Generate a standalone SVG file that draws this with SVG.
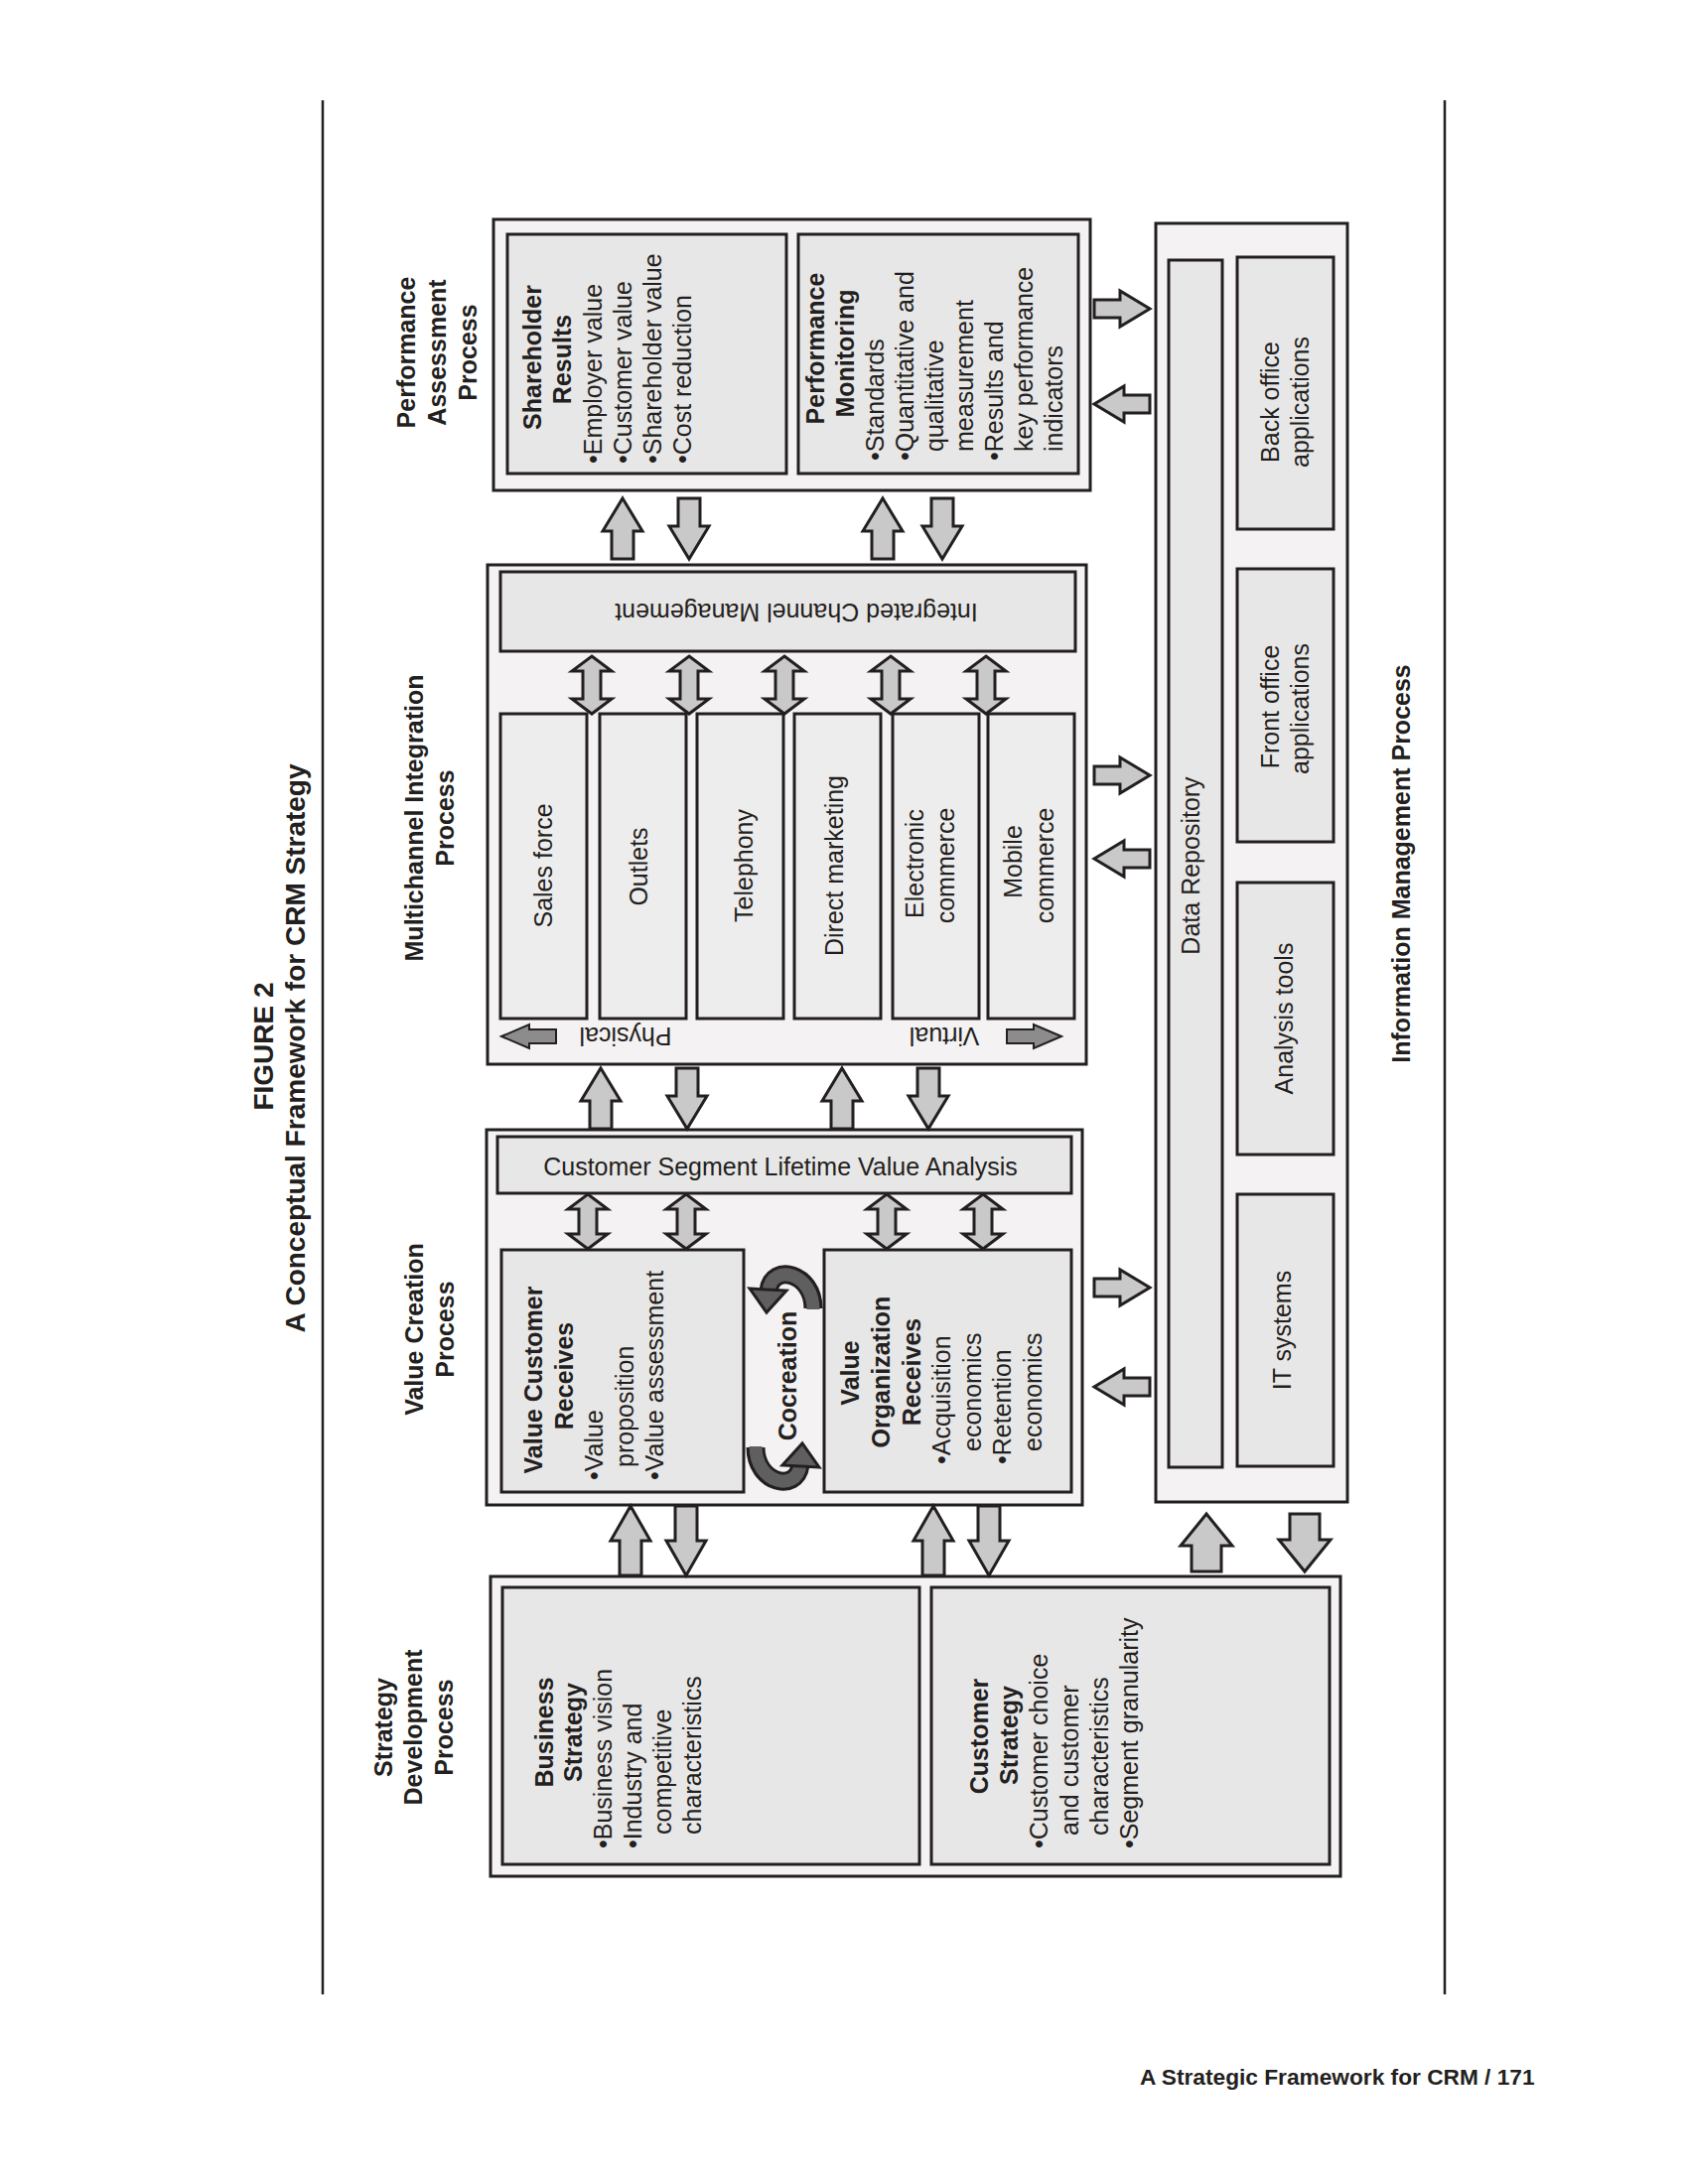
<svg xmlns="http://www.w3.org/2000/svg" width="1700" height="2200" viewBox="0 0 1700 2200">
<style>
text{font-family:"Liberation Sans",Arial,Helvetica,sans-serif;fill:#231f20;font-size:25px}
.b{font-weight:bold}
.m{text-anchor:middle}
.t{font-size:28px;font-weight:bold;text-anchor:middle}
.outer{fill:#f4f2f2;stroke:#231f20;stroke-width:3}
.inner{fill:#e8e7e7;stroke:#231f20;stroke-width:3}
.ch{fill:#eeeded;stroke:#231f20;stroke-width:3}
.arr{fill:#c9c9c9;stroke:#231f20;stroke-width:3;stroke-linejoin:miter}
.darr{fill:#8c8c8c;stroke:#231f20;stroke-width:2}
.rule{stroke:#231f20;stroke-width:2.5}
.coO{fill:none;stroke:#231f20;stroke-width:19}
.coI{fill:none;stroke:#5f5f5f;stroke-width:13}
.coH{fill:#5f5f5f;stroke:#231f20;stroke-width:3;stroke-linejoin:miter}
</style>
<defs>
<g id="coArrow">
<path class="coO" d="M819,1318 C819,1282 778,1272 774,1300"/>
<path class="coI" d="M819,1319 C819,1282 778,1272 774,1300"/>
<polygon class="coH" points="755,1298 792,1300 772,1322"/>
</g>
</defs>
<rect width="1700" height="2200" fill="#ffffff"/>

<g id="rules">
<line class="rule" x1="325" y1="101" x2="325" y2="2009"/>
<line class="rule" x1="1455" y1="101" x2="1455" y2="2009"/>
</g>

<g id="title" transform="rotate(-90)">
<text class="t" x="-1054" y="275">FIGURE 2</text>
<text class="t" x="-1056" y="307">A Conceptual Framework for CRM Strategy</text>
</g>

<g id="headings" transform="rotate(-90)" font-weight="bold" text-anchor="middle">
<text x="-355" y="418">Performance</text>
<text x="-355" y="449">Assessment</text>
<text x="-355" y="480">Process</text>
<text x="-824" y="426">Multichannel Integration</text>
<text x="-824" y="457">Process</text>
<text x="-1339" y="426">Value Creation</text>
<text x="-1339" y="457">Process</text>
<text x="-1740" y="395">Strategy</text>
<text x="-1740" y="425">Development</text>
<text x="-1740" y="456">Process</text>
<text x="-870" y="1420">Information Management Process</text>
</g>

<g id="performance-assessment">
<rect class="outer" x="497" y="221" width="601" height="273"/>
<g id="shareholder-results">
<rect class="inner" x="511" y="236" width="281" height="241"/>
<g transform="rotate(-90)">
<text class="b m" x="-360" y="545">Shareholder</text>
<text class="b m" x="-362" y="575">Results</text>
<text x="-467" y="606">•Employer value</text>
<text x="-467" y="636">•Customer value</text>
<text x="-467" y="666">•Shareholder value</text>
<text x="-467" y="696">•Cost reduction</text>
</g>
</g>
<g id="performance-monitoring">
<rect class="inner" x="804" y="236" width="282" height="241"/>
<g transform="rotate(-90)">
<text class="b m" x="-351" y="830">Performance</text>
<text class="b m" x="-356" y="860">Monitoring</text>
<text x="-464" y="890">•Standards</text>
<text x="-464" y="920">•Quantitative and</text>
<text x="-455" y="950">qualitative</text>
<text x="-455" y="980">measurement</text>
<text x="-464" y="1010">•Results and</text>
<text x="-455" y="1040">key performance</text>
<text x="-455" y="1070">indicators</text>
</g>
</g>
</g>

<g id="multichannel-integration">
<rect class="outer" x="491" y="569" width="603" height="503"/>
<g id="integrated-channel-management">
<rect class="inner" x="504" y="576" width="579" height="80"/>
<text class="m" transform="translate(802,608) rotate(180)">Integrated Channel Management</text>
</g>
<g id="channels">
<rect class="ch" x="504" y="719" width="87" height="307"/>
<rect class="ch" x="604" y="719" width="87" height="307"/>
<rect class="ch" x="702" y="719" width="87" height="307"/>
<rect class="ch" x="800" y="719" width="87" height="307"/>
<rect class="ch" x="899" y="719" width="87" height="307"/>
<rect class="ch" x="995" y="719" width="87" height="307"/>
<g transform="rotate(-90)" text-anchor="middle">
<text x="-872" y="556">Sales force</text>
<text x="-873" y="652">Outlets</text>
<text x="-872" y="758">Telephony</text>
<text x="-872" y="849">Direct marketing</text>
<text x="-870" y="930">Electronic</text>
<text x="-872" y="961">commerce</text>
<text x="-868" y="1029">Mobile</text>
<text x="-872" y="1061">commerce</text>
</g>
</g>
<g id="physical-virtual">
<path class="darr" d="M505,1044 L533,1032 L533,1037 L560,1037 L560,1051 L533,1051 L533,1056 Z"/>
<text class="m" transform="translate(630,1035) rotate(180)">Physical</text>
<text class="m" transform="translate(951,1035) rotate(180)">Virtual</text>
<path class="darr" d="M1069,1044 L1041,1032 L1041,1037 L1014,1037 L1014,1051 L1041,1051 L1041,1056 Z"/>
</g>
</g>

<g id="value-creation">
<rect class="outer" x="490" y="1138" width="600" height="378"/>
<g id="segment-lifetime-value">
<rect class="inner" x="501" y="1145" width="578" height="57"/>
<text class="m" x="786" y="1184">Customer Segment Lifetime Value Analysis</text>
</g>
<g id="value-customer-receives">
<rect class="inner" x="505" y="1259" width="244" height="244"/>
<g transform="rotate(-90)">
<text class="b m" x="-1390" y="546">Value Customer</text>
<text class="b m" x="-1386" y="577">Receives</text>
<text x="-1491" y="607">•Value</text>
<text x="-1478" y="638">proposition</text>
<text x="-1491" y="668">•Value assessment</text>
</g>
</g>
<g id="cocreation">
<use href="#coArrow"/>
<use href="#coArrow" transform="rotate(180 790 1388)"/>
<text class="b m" transform="rotate(-90)" x="-1386" y="802">Cocreation</text>
</g>
<g id="value-organization-receives">
<rect class="inner" x="830" y="1259" width="249" height="244"/>
<g transform="rotate(-90)">
<text class="b m" x="-1383" y="865">Value</text>
<text class="b m" x="-1382" y="896">Organization</text>
<text class="b m" x="-1382" y="927">Receives</text>
<text x="-1475" y="957">•Acquisition</text>
<text x="-1462" y="988">economics</text>
<text x="-1475" y="1018">•Retention</text>
<text x="-1462" y="1049">economics</text>
</g>
</g>
</g>

<g id="strategy-development">
<rect class="outer" x="494" y="1588" width="856" height="302"/>
<g id="business-strategy">
<rect class="inner" x="506" y="1599" width="420" height="279"/>
<g transform="rotate(-90)">
<text class="b m" x="-1745" y="557">Business</text>
<text class="b m" x="-1745" y="586">Strategy</text>
<text x="-1862" y="616">•Business vision</text>
<text x="-1862" y="646">•Industry and</text>
<text x="-1848" y="676">competitive</text>
<text x="-1848" y="706">characteristics</text>
</g>
</g>
<g id="customer-strategy">
<rect class="inner" x="938" y="1599" width="401" height="279"/>
<g transform="rotate(-90)">
<text class="b m" x="-1749" y="995">Customer</text>
<text class="b m" x="-1748" y="1025">Strategy</text>
<text x="-1862" y="1055">•Customer choice</text>
<text x="-1849" y="1086">and customer</text>
<text x="-1849" y="1116">characteristics</text>
<text x="-1862" y="1146">•Segment granularity</text>
</g>
</g>
</g>

<g id="information-management">
<rect class="outer" x="1164" y="225" width="193" height="1288"/>
<g id="data-repository">
<rect class="inner" x="1177" y="262" width="54" height="1216"/>
<text class="m" transform="rotate(-90)" x="-872" y="1208">Data Repository</text>
</g>
<g id="back-office">
<rect class="inner" x="1246" y="259" width="97" height="274"/>
<g transform="rotate(-90)" text-anchor="middle"><text x="-405" y="1288">Back office</text><text x="-405" y="1318">applications</text></g>
</g>
<g id="front-office">
<rect class="inner" x="1246" y="573" width="97" height="275"/>
<g transform="rotate(-90)" text-anchor="middle"><text x="-712" y="1288">Front office</text><text x="-714" y="1318">applications</text></g>
</g>
<g id="analysis-tools">
<rect class="inner" x="1246" y="889" width="97" height="274"/>
<text class="m" transform="rotate(-90)" x="-1026" y="1302">Analysis tools</text>
</g>
<g id="it-systems">
<rect class="inner" x="1246" y="1203" width="97" height="274"/>
<text class="m" transform="rotate(-90)" x="-1340" y="1300">IT systems</text>
</g>
</g>

<g id="connectors">
<path class="arr" d="M627,502 L647,535 L638,535 L638,563 L616,563 L616,535 L607,535 Z"/>
<path class="arr" d="M683,502 L705,502 L705,530 L714,530 L694,563 L674,530 L683,530 Z"/>
<path class="arr" d="M889,502 L909,535 L900,535 L900,563 L878,563 L878,535 L869,535 Z"/>
<path class="arr" d="M938,502 L960,502 L960,530 L969,530 L949,563 L929,530 L938,530 Z"/>

<path class="arr" d="M605,1076 L625,1109 L616,1109 L616,1137 L594,1137 L594,1109 L585,1109 Z"/>
<path class="arr" d="M681,1076 L703,1076 L703,1104 L712,1104 L692,1137 L672,1104 L681,1104 Z"/>
<path class="arr" d="M848,1076 L868,1109 L859,1109 L859,1137 L837,1137 L837,1109 L828,1109 Z"/>
<path class="arr" d="M924,1076 L946,1076 L946,1104 L955,1104 L935,1137 L915,1104 L924,1104 Z"/>

<path class="arr" d="M635,1517 L655,1552 L646,1552 L646,1587 L624,1587 L624,1552 L615,1552 Z"/>
<path class="arr" d="M680,1517 L702,1517 L702,1552 L711,1552 L691,1587 L671,1552 L680,1552 Z"/>
<path class="arr" d="M940,1517 L960,1552 L951,1552 L951,1587 L929,1587 L929,1552 L920,1552 Z"/>
<path class="arr" d="M985,1517 L1007,1517 L1007,1552 L1016,1552 L996,1587 L976,1552 L985,1552 Z"/>

<path class="arr" d="M1215,1525 L1241,1557 L1230,1557 L1230,1583 L1200,1583 L1200,1557 L1189,1557 Z"/>
<path class="arr" d="M1299,1525 L1329,1525 L1329,1551 L1340,1551 L1314,1583 L1288,1551 L1299,1551 Z"/>

<path class="arr" d="M1102,302 L1128,302 L1128,293 L1158,311 L1128,329 L1128,320 L1102,320 Z"/>
<path class="arr" d="M1158,398 L1132,398 L1132,389 L1102,407 L1132,425 L1132,416 L1158,416 Z"/>
<path class="arr" d="M1102,772 L1128,772 L1128,763 L1158,781 L1128,799 L1128,790 L1102,790 Z"/>
<path class="arr" d="M1158,856 L1132,856 L1132,847 L1102,865 L1132,883 L1132,874 L1158,874 Z"/>
<path class="arr" d="M1102,1288 L1128,1288 L1128,1279 L1158,1297 L1128,1315 L1128,1306 L1102,1306 Z"/>
<path class="arr" d="M1158,1388 L1132,1388 L1132,1379 L1102,1397 L1132,1415 L1132,1406 L1158,1406 Z"/>

<path class="arr" d="M596,661 L616,676 L605,676 L605,704 L616,704 L596,719 L576,704 L587,704 L587,676 L576,676 Z"/>
<path class="arr" d="M694,661 L714,676 L703,676 L703,704 L714,704 L694,719 L674,704 L685,704 L685,676 L674,676 Z"/>
<path class="arr" d="M790,661 L810,676 L799,676 L799,704 L810,704 L790,719 L770,704 L781,704 L781,676 L770,676 Z"/>
<path class="arr" d="M897,661 L917,676 L906,676 L906,704 L917,704 L897,719 L877,704 L888,704 L888,676 L877,676 Z"/>
<path class="arr" d="M993,661 L1013,676 L1002,676 L1002,704 L1013,704 L993,719 L973,704 L984,704 L984,676 L973,676 Z"/>

<path class="arr" d="M592,1203 L612,1218 L601,1218 L601,1243 L612,1243 L592,1258 L572,1243 L583,1243 L583,1218 L572,1218 Z"/>
<path class="arr" d="M691,1203 L711,1218 L700,1218 L700,1243 L711,1243 L691,1258 L671,1243 L682,1243 L682,1218 L671,1218 Z"/>
<path class="arr" d="M893,1203 L913,1218 L902,1218 L902,1243 L913,1243 L893,1258 L873,1243 L884,1243 L884,1218 L873,1218 Z"/>
<path class="arr" d="M990,1203 L1010,1218 L999,1218 L999,1243 L1010,1243 L990,1258 L970,1243 L981,1243 L981,1218 L970,1218 Z"/>
</g>

<text id="footer" class="b" x="1148" y="2100" style="font-size:22.7px">A Strategic Framework for CRM / 171</text>
</svg>
